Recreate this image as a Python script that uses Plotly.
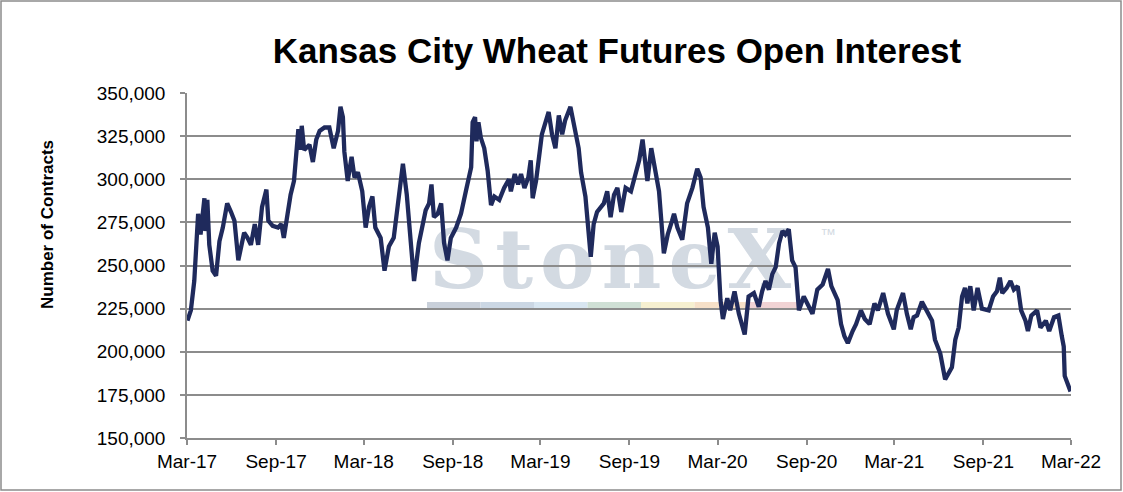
import plotly.graph_objects as go

# weekly-ish open interest readings (contracts)
dates = [
    "2017-03-02", "2017-03-09", "2017-03-16", "2017-03-19", "2017-03-24", "2017-03-29",
    "2017-04-06", "2017-04-08", "2017-04-12", "2017-04-16", "2017-04-23", "2017-04-30",
    "2017-05-07", "2017-05-14", "2017-05-23", "2017-05-31", "2017-06-07", "2017-06-15",
    "2017-06-21", "2017-06-27", "2017-07-04", "2017-07-11", "2017-07-19", "2017-07-26",
    "2017-08-03", "2017-08-12", "2017-08-16", "2017-08-25", "2017-09-05", "2017-09-12",
    "2017-09-17", "2017-09-24", "2017-10-01", "2017-10-08", "2017-10-12", "2017-10-17",
    "2017-10-21", "2017-10-24", "2017-10-29", "2017-11-09", "2017-11-16", "2017-11-23",
    "2017-11-30", "2017-12-10", "2017-12-20", "2017-12-29", "2018-01-07", "2018-01-12",
    "2018-01-17", "2018-01-20", "2018-01-27", "2018-02-04", "2018-02-10", "2018-02-17",
    "2018-02-26", "2018-03-05", "2018-03-12", "2018-03-19", "2018-03-25", "2018-04-05",
    "2018-04-13", "2018-04-22", "2018-05-02", "2018-05-16", "2018-05-21", "2018-05-29",
    "2018-06-13", "2018-06-23", "2018-07-07", "2018-07-14", "2018-07-19", "2018-07-24",
    "2018-08-01", "2018-08-08", "2018-08-14", "2018-08-21", "2018-08-28", "2018-09-08",
    "2018-09-18", "2018-09-28", "2018-10-09", "2018-10-12", "2018-10-17", "2018-10-20",
    "2018-10-24", "2018-10-29", "2018-11-05", "2018-11-12", "2018-11-19", "2018-11-26",
    "2018-12-06", "2018-12-16", "2018-12-26", "2018-12-30", "2019-01-07", "2019-01-14",
    "2019-01-20", "2019-01-27", "2019-02-04", "2019-02-09", "2019-02-13", "2019-02-20",
    "2019-02-26", "2019-03-04", "2019-03-18", "2019-03-25", "2019-04-01", "2019-04-08",
    "2019-04-15", "2019-04-21", "2019-05-02", "2019-05-12", "2019-05-19", "2019-05-24",
    "2019-06-02", "2019-06-13", "2019-06-19", "2019-06-26", "2019-07-03", "2019-07-10",
    "2019-07-17", "2019-07-24", "2019-07-31", "2019-08-07", "2019-08-15", "2019-08-24",
    "2019-09-04", "2019-09-14", "2019-09-21", "2019-09-28", "2019-10-02", "2019-10-08",
    "2019-10-16", "2019-10-25", "2019-11-01", "2019-11-11", "2019-11-19", "2019-11-28",
    "2019-12-02", "2019-12-09", "2019-12-19", "2019-12-29", "2020-01-09", "2020-01-19",
    "2020-01-26", "2020-02-01", "2020-02-10", "2020-02-17", "2020-02-24", "2020-03-01",
    "2020-03-07", "2020-03-12", "2020-03-21", "2020-03-27", "2020-04-05", "2020-04-14",
    "2020-04-26", "2020-05-04", "2020-05-15", "2020-05-25", "2020-06-01", "2020-06-08",
    "2020-06-15", "2020-06-22", "2020-06-29", "2020-07-06", "2020-07-13", "2020-07-19",
    "2020-07-26", "2020-08-02", "2020-08-09", "2020-08-16", "2020-08-26", "2020-09-06",
    "2020-09-13", "2020-09-23", "2020-10-04", "2020-10-15", "2020-10-22", "2020-11-04",
    "2020-11-11", "2020-11-18", "2020-11-25", "2020-12-05", "2020-12-12", "2020-12-22",
    "2020-12-30", "2021-01-09", "2021-01-19", "2021-01-26", "2021-02-06", "2021-02-16",
    "2021-02-28", "2021-03-06", "2021-03-19", "2021-03-27", "2021-04-04", "2021-04-10",
    "2021-04-17", "2021-04-27", "2021-05-07", "2021-05-18", "2021-05-24", "2021-06-04",
    "2021-06-14", "2021-06-21", "2021-06-28", "2021-07-05", "2021-07-12", "2021-07-19",
    "2021-07-25", "2021-07-30", "2021-08-05", "2021-08-12", "2021-08-20", "2021-08-29",
    "2021-09-12", "2021-09-21", "2021-09-29", "2021-10-05", "2021-10-10", "2021-10-19",
    "2021-10-27", "2021-11-03", "2021-11-11", "2021-11-18", "2021-11-27", "2021-12-02",
    "2021-12-09", "2021-12-21", "2021-12-28", "2022-01-08", "2022-01-15", "2022-01-25",
    "2022-02-03", "2022-02-10", "2022-02-14", "2022-02-16", "2022-02-22", "2022-02-28",
]
open_interest = [
    218000, 224000, 241000, 259000, 280000, 268000,
    289000, 270000, 288000, 262000, 247000, 244000,
    264000, 272000, 286000, 281000, 276000, 253000,
    261000, 269000, 266000, 262000, 274000, 262000,
    284000, 294000, 276000, 273000, 272000, 274000,
    266000, 280000, 291000, 299000, 313000, 329000,
    317000, 331000, 317000, 320000, 310000, 323000,
    328000, 330000, 330000, 318000, 328000, 342000,
    336000, 316000, 299000, 313000, 301000, 304000,
    293000, 272000, 284000, 290000, 272000, 266000,
    247000, 261000, 266000, 301000, 309000, 291000,
    241000, 263000, 282000, 286000, 297000, 278000,
    280000, 286000, 263000, 253000, 266000, 272000,
    280000, 293000, 307000, 333000, 336000, 322000,
    333000, 324000, 318000, 305000, 285000, 290000,
    288000, 295000, 300000, 293000, 303000, 297000,
    303000, 295000, 301000, 311000, 289000, 299000,
    315000, 326000, 339000, 326000, 318000, 337000,
    326000, 334000, 342000, 328000, 318000, 304000,
    290000, 255000, 274000, 281000, 284000, 286000,
    293000, 278000, 291000, 295000, 281000, 295000,
    293000, 305000, 311000, 323000, 311000, 299000,
    318000, 304000, 293000, 257000, 268000, 276000,
    280000, 272000, 265000, 286000, 295000, 306000,
    301000, 284000, 272000, 251000, 269000, 261000,
    230000, 219000, 231000, 224000, 235000, 222000,
    210000, 232000, 234000, 226000, 235000, 241000,
    236000, 245000, 249000, 263000, 270000, 268000,
    271000, 253000, 249000, 224000, 232000, 226000,
    222000, 236000, 239000, 248000, 238000, 230000,
    216000, 209000, 205000, 212000, 216000, 224000,
    219000, 216000, 228000, 224000, 234000, 222000,
    213000, 224000, 234000, 222000, 213000, 220000,
    221000, 229000, 224000, 218000, 207000, 199000,
    184000, 187000, 191000, 207000, 214000, 232000,
    237000, 228000, 238000, 224000, 237000, 225000,
    224000, 232000, 235000, 243000, 234000, 237000,
    241000, 236000, 238000, 224000, 218000, 212000,
    221000, 224000, 214000, 218000, 212000, 220000,
    221000, 209000, 203000, 186000, 182000, 177000,
]

tick_dates = ["2017-03-01", "2017-09-01", "2018-03-01", "2018-09-01", "2019-03-01", "2019-09-01",
              "2020-03-01", "2020-09-01", "2021-03-01", "2021-09-01", "2022-03-01"]
tick_labels = ["Mar-17", "Sep-17", "Mar-18", "Sep-18", "Mar-19", "Sep-19",
               "Mar-20", "Sep-20", "Mar-21", "Sep-21", "Mar-22"]

# watermark colour band
band_colors = ["#C9D0DA", "#CBD7E4", "#D8E6F1", "#CFE0D5", "#F6F0D0", "#F6E0C8", "#F1D3D4"]

W, H = 1123, 492
L, R, T, B = 187, 52, 93, 54
GRID = "#8c8c8c"
FONT = "Liberation Sans"


def px_x(p):
    return (p - L) / (W - L - R)


def px_y(p):
    return (H - B - p) / (H - T - B)


fig = go.Figure()
fig.add_trace(go.Scatter(x=dates, y=open_interest, mode="lines",
                         line=dict(color="#1F2A5C", width=4.3), showlegend=False))

shapes = []
# outer border
shapes.append(dict(type="rect", xref="paper", yref="paper",
                   x0=px_x(1), x1=px_x(1121), y0=px_y(490), y1=px_y(1),
                   line=dict(color=GRID, width=1.5)))
# StoneX watermark bar
seg_w = 53.5
for i, c in enumerate(band_colors):
    shapes.append(dict(type="rect", xref="paper", yref="paper", layer="below",
                       x0=px_x(427 + i * seg_w), x1=px_x(427 + (i + 1) * seg_w),
                       y0=px_y(310), y1=px_y(302), fillcolor=c, line=dict(width=0)))
# StoneX watermark text
shapes.append(dict(type="rect", xref="paper", yref="paper", layer="below",
                   x0=px_x(426), x1=px_x(820), y0=px_y(293), y1=px_y(215),
                   fillcolor="rgba(0,0,0,0)", line=dict(width=0),
                   label=dict(text='<span style="letter-spacing:7px"><b>StoneX</b></span>',
                              textposition="middle left", padding=0,
                              font=dict(family="DejaVu Serif", size=82, color="#D3DAE2"))))
shapes.append(dict(type="rect", xref="paper", yref="paper", layer="below",
                   x0=px_x(817), x1=px_x(845), y0=px_y(240), y1=px_y(225),
                   fillcolor="rgba(0,0,0,0)", line=dict(width=0),
                   label=dict(text="™", textposition="middle left", padding=0,
                              font=dict(family="Liberation Sans", size=16, color="#D3DAE2"))))

fig.update_layout(
    width=W, height=H,
    margin=dict(l=L, r=R, t=T, b=B),
    paper_bgcolor="white", plot_bgcolor="white",
    font=dict(family=FONT, size=19, color="#000000"),
    title=dict(text="<b>Kansas City Wheat Futures Open Interest</b>",
               font=dict(family=FONT, size=35, color="#000000"),
               x=px_x(617), xref="paper", xanchor="center",
               y=1 - 51 / H, yref="container", yanchor="middle"),
    shapes=shapes,
    annotations=[dict(text="<b>Number of Contracts</b>", textangle=-90,
                      xref="paper", yref="paper", x=px_x(47), y=px_y(225),
                      xanchor="center", yanchor="middle",
                      showarrow=False, font=dict(family=FONT, size=17, color="#000000"))],
)
fig.update_xaxes(type="date", range=["2017-03-01", "2022-03-01"],
                 tickvals=tick_dates, ticktext=tick_labels,
                 showgrid=False, showline=True, linecolor=GRID, linewidth=1.5,
                 ticks="outside", ticklen=5, tickcolor=GRID, tickwidth=1.5)
fig.update_yaxes(range=[150000, 350000], dtick=25000, tickformat=",",
                 showgrid=True, gridcolor=GRID, gridwidth=1.5, zeroline=False,
                 showline=True, linecolor=GRID, linewidth=1.5,
                 ticks="outside", ticklen=5, tickcolor=GRID, tickwidth=1.5,
                 ticklabelstandoff=11)

fig.write_html("out.html", config={"displayModeBar": False},
               post_script="document.body.style.margin='0';")
